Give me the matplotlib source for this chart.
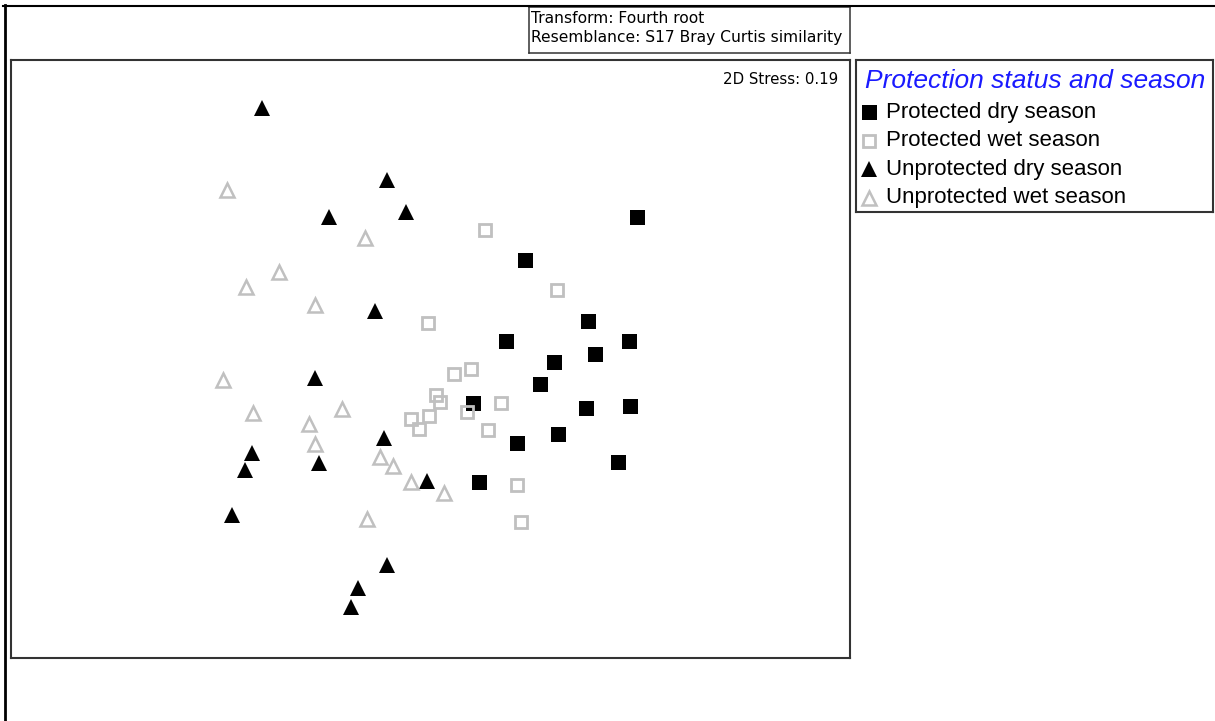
import matplotlib
matplotlib.use("Agg")
import matplotlib.pyplot as plt
from matplotlib.lines import Line2D

# ---- NMDS ordination coordinates (MDS1, MDS2) ----
prot_dry_x = [2.07, 0.95, 1.58, 0.76, 1.99, 1.65, 1.24, 1.10, 1.56, 2.00, 0.43, 1.28, 0.87, 1.88, 0.49]
prot_dry_y = [1.43, 1.00, 0.39, 0.19, 0.19, 0.06, -0.02, -0.24, -0.48, -0.46, -0.43, -0.74, -0.83, -1.02, -1.22]

prot_wet_x = [0.55, 1.27, -0.02, 0.24, 0.41, 0.06, 0.10, -0.19, -0.11, -0.01, 0.37, 0.71, 0.58, 0.87, 0.91]
prot_wet_y = [1.30, 0.70, 0.37, -0.14, -0.09, -0.35, -0.42, -0.59, -0.69, -0.56, -0.52, -0.43, -0.70, -1.25, -1.62]

unprot_dry_x = [-1.68, -0.43, -1.01, -0.24, -0.55, -1.15, -0.46, -1.78, -1.85, -1.11, -1.98, -0.03, -0.43, -0.72, -0.79]
unprot_dry_y = [2.52, 1.80, 1.43, 1.48, 0.49, -0.18, -0.78, -0.93, -1.10, -1.03, -1.55, -1.21, -2.05, -2.28, -2.47]

unprot_wet_x = [-2.03, -0.65, -1.51, -1.84, -1.15, -2.07, -1.77, -0.88, -1.21, -1.15, -0.50, -0.37, -0.19, 0.14, -0.63]
unprot_wet_y = [1.70, 1.22, 0.88, 0.73, 0.55, -0.20, -0.53, -0.49, -0.64, -0.84, -0.97, -1.06, -1.22, -1.33, -1.59]

group_labels = ["Protected dry season", "Protected wet season",
                "Unprotected dry season", "Unprotected wet season"]
legend_title = "Protection status and season"
stress_label = "2D Stress: 0.19"
info_lines = ["Transform: Fourth root", "Resemblance: S17 Bray Curtis similarity"]

# ---- styles ----
GREY = "#c0c0c0"
EDGE = "#333333"
styles = [
    dict(marker="s", ms=10.8, mfc="black", mec="none", mew=0),
    dict(marker="s", ms=8.4, mfc="none", mec=GREY, mew=2.0),
    dict(marker="^", ms=12.0, mfc="black", mec="none", mew=0),
    dict(marker="^", ms=10.5, mfc="none", mec=GREY, mew=1.8),
]
series = [(prot_dry_x, prot_dry_y), (prot_wet_x, prot_wet_y),
          (unprot_dry_x, unprot_dry_y), (unprot_wet_x, unprot_wet_y)]

W, H, DPI = 1215, 721, 100
fig = plt.figure(figsize=(W / DPI, H / DPI), dpi=DPI)
fig.patch.set_facecolor("white")


def fx(x):
    return x / W


def fy(y):
    return 1 - y / H


def box(left, top, right, bottom):
    return [fx(left), fy(bottom), (right - left) / W, (bottom - top) / H]


def framed(ax, color, lw):
    ax.set_xticks([])
    ax.set_yticks([])
    for sp in ax.spines.values():
        sp.set_color(color)
        sp.set_linewidth(lw)


# ---- ordination plot ----
ax = fig.add_axes(box(11, 60, 850, 658))
framed(ax, EDGE, 1.5)
ax.set_xlim(-4.19, 4.20)
ax.set_ylim(-2.98, 3.00)
for (xs, ys), st in zip(series, styles):
    ax.plot(xs, ys, linestyle="none", **st)

fig.text(fx(838), fy(84), stress_label, ha="right", va="baseline",
         fontsize=10.8, family="DejaVu Sans")

# ---- transform / resemblance box ----
info_ax = fig.add_axes(box(529, 7, 850, 53))
framed(info_ax, EDGE, 1.1)
for i, line in enumerate(info_lines):
    fig.text(fx(531), fy(23 + 19 * i), line, ha="left", va="baseline",
             fontsize=11.2, family="DejaVu Sans")

# ---- legend box ----
leg = fig.add_axes(box(856, 60, 1213, 212))
framed(leg, EDGE, 1.5)
leg.set_xlim(0, 357)
leg.set_ylim(152, 0)
leg.text(9, 28, legend_title, color="#1a1aff", style="italic", fontsize=19,
         family="Liberation Sans", va="baseline", ha="left")
for i, (label, st) in enumerate(zip(group_labels, styles)):
    base = 58 + 28.5 * i
    leg.plot([13], [base - 6], linestyle="none", **st)
    leg.text(30, base, label, fontsize=16, family="Liberation Sans",
             va="baseline", ha="left")

# ---- outer page frame (left and top edges) ----
fig.add_artist(Line2D([fx(4.7), fx(4.7)], [0, fy(4.8)], color="black",
                      lw=2.0, transform=fig.transFigure))
fig.add_artist(Line2D([fx(3.3), 1], [fy(5.8), fy(5.8)], color="black",
                      lw=1.5, transform=fig.transFigure))

fig.savefig("out.png", dpi=DPI, facecolor="white")
